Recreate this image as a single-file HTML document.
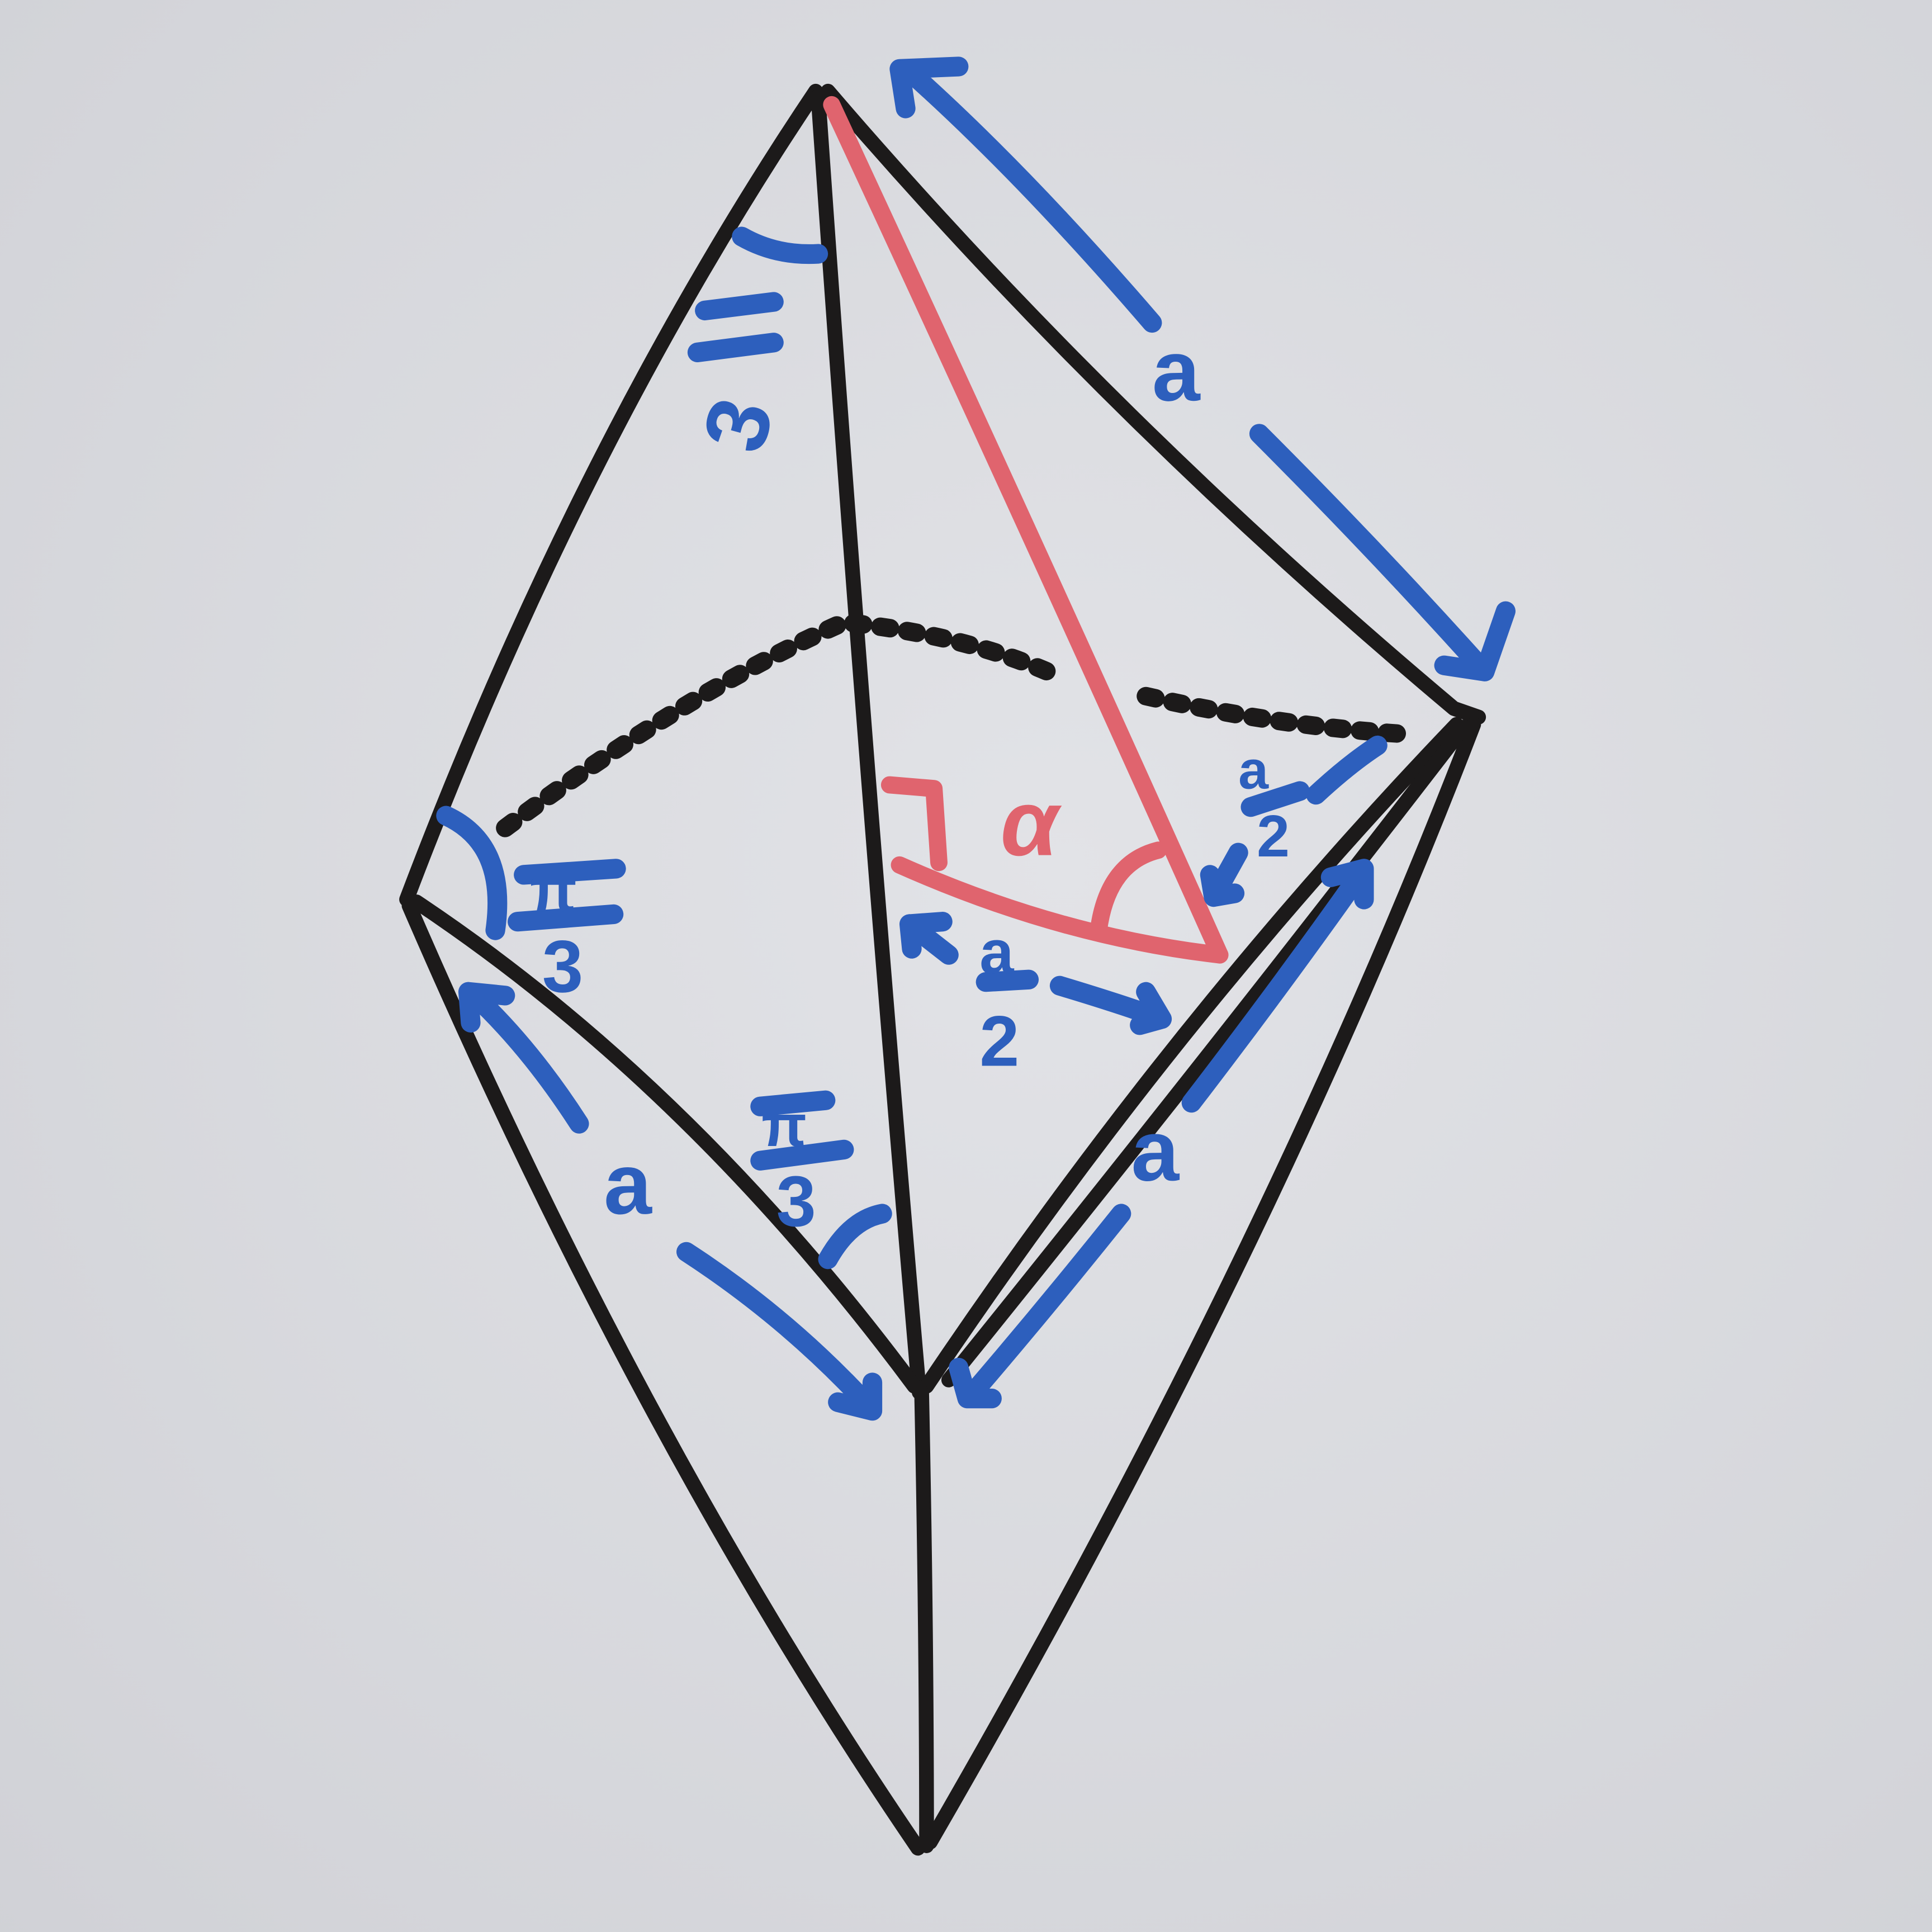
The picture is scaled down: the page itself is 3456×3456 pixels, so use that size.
<!DOCTYPE html>
<html><head><meta charset="utf-8"><style>
html,body{margin:0;padding:0;}
body{width:3456px;height:3456px;overflow:hidden;background:#d9dadf;}
svg{display:block;}
text{font-family:"Liberation Sans",sans-serif;font-weight:bold;}
</style></head><body>
<svg width="3456" height="3456" viewBox="0 0 1568 1568" xmlns="http://www.w3.org/2000/svg">
<defs>
<radialGradient id="bg" cx="0.55" cy="0.45" r="0.8">
<stop offset="0" stop-color="#e2e3e7"/><stop offset="1" stop-color="#d0d1d6"/>
</radialGradient>
</defs>
<rect x="0" y="0" width="1568" height="1568" fill="url(#bg)"/>
<g fill="none" stroke="#1c1a1a" stroke-width="12" stroke-linecap="round" stroke-linejoin="round">
<path d="M662,74 Q470,360 330,730"/>
<path d="M672,74 Q900,340 1180,575 L1200,582"/>
<path d="M664,78 Q700,600 746,1130"/>
<path d="M338,732 Q560,880 742,1125"/>
<path d="M1182,588 Q950,830 752,1125"/>
<path d="M332,735 Q520,1170 745,1500"/>
<path d="M1196,588 Q1030,1020 755,1495"/>
<path d="M748,1130 Q752,1320 752,1498"/>
<path d="M1188,590 Q980,860 770,1120"/>
</g>
<path d="M410,672 Q560,560 685,505 Q780,515 850,545 M930,565 Q1040,590 1145,596" fill="none" stroke="#1c1a1a" stroke-width="15" stroke-dasharray="8,14" stroke-linecap="round"/>
<g fill="none" stroke="#e0646e" stroke-width="14" stroke-linecap="round" stroke-linejoin="round">
<path d="M675,85 Q840,440 990,775"/>
<path d="M730,702 Q860,760 990,775"/>
<path d="M722,637 L758,640 L762,700"/>
<path d="M892,752 Q900,700 940,690"/>
</g>
<text x="812" y="694" font-size="76" fill="#e0646e" font-family="Liberation Serif" font-style="italic">α</text>
<g fill="none" stroke="#2d5fbd" stroke-width="16" stroke-linecap="round" stroke-linejoin="round">
<path d="M935,262 Q830,140 738,58 M730,56 L778,54 M730,56 L735,88"/>
<path d="M1022,352 Q1120,450 1205,545 M1205,545 L1222,496 M1205,545 L1172,540"/>
<path d="M602,192 Q630,208 664,206"/>
<path d="M362,662 Q412,685 402,755"/>
<path d="M470,912 Q430,850 385,808 M380,805 L410,808 M380,805 L382,830"/>
<path d="M557,1016 Q640,1070 706,1142 M708,1145 L708,1122 M708,1145 L680,1138"/>
<path d="M672,1022 Q690,990 716,985"/>
<path d="M910,985 Q850,1060 790,1130 M785,1135 L778,1110 M785,1135 L805,1135"/>
<path d="M967,895 Q1040,800 1105,708 M1107,705 L1080,712 M1107,705 L1107,730"/>
<path d="M770,775 L738,750 M738,750 L765,748 M738,750 L740,770"/>
<path d="M860,800 Q910,815 943,827 M943,827 L930,805 M943,827 L925,832"/>
<path d="M1068,645 Q1095,620 1118,605"/>
<path d="M1005,692 L985,728 M985,728 L1002,725 M985,728 L982,710"/>
<path d="M425,710 L500,705 M420,748 L498,742"/>
<path d="M617,898 L670,893 M617,942 L685,933"/>
<path d="M572,252 L628,245 M566,286 L628,278"/>
<path d="M800,797 L835,795"/>
<path d="M1015,655 L1055,642"/>
</g>
<g fill="#2d5fbd" font-size="70">
<text x="935" y="325">a</text>
<text x="490" y="985">a</text>
<text x="918" y="958">a</text>
<text x="575" y="365" font-size="72" transform="rotate(-75 600 340)">3</text>
<text x="430" y="740" font-size="50">π</text>
<text x="440" y="805" font-size="60">3</text>
<text x="618" y="930" font-size="48">π</text>
<text x="630" y="995" font-size="58">3</text>
<text x="795" y="790" font-size="50">a</text>
<text x="795" y="865" font-size="58">2</text>
<text x="1005" y="640" font-size="44">a</text>
<text x="1020" y="695" font-size="48">2</text>
</g>
</svg>
</body></html>
